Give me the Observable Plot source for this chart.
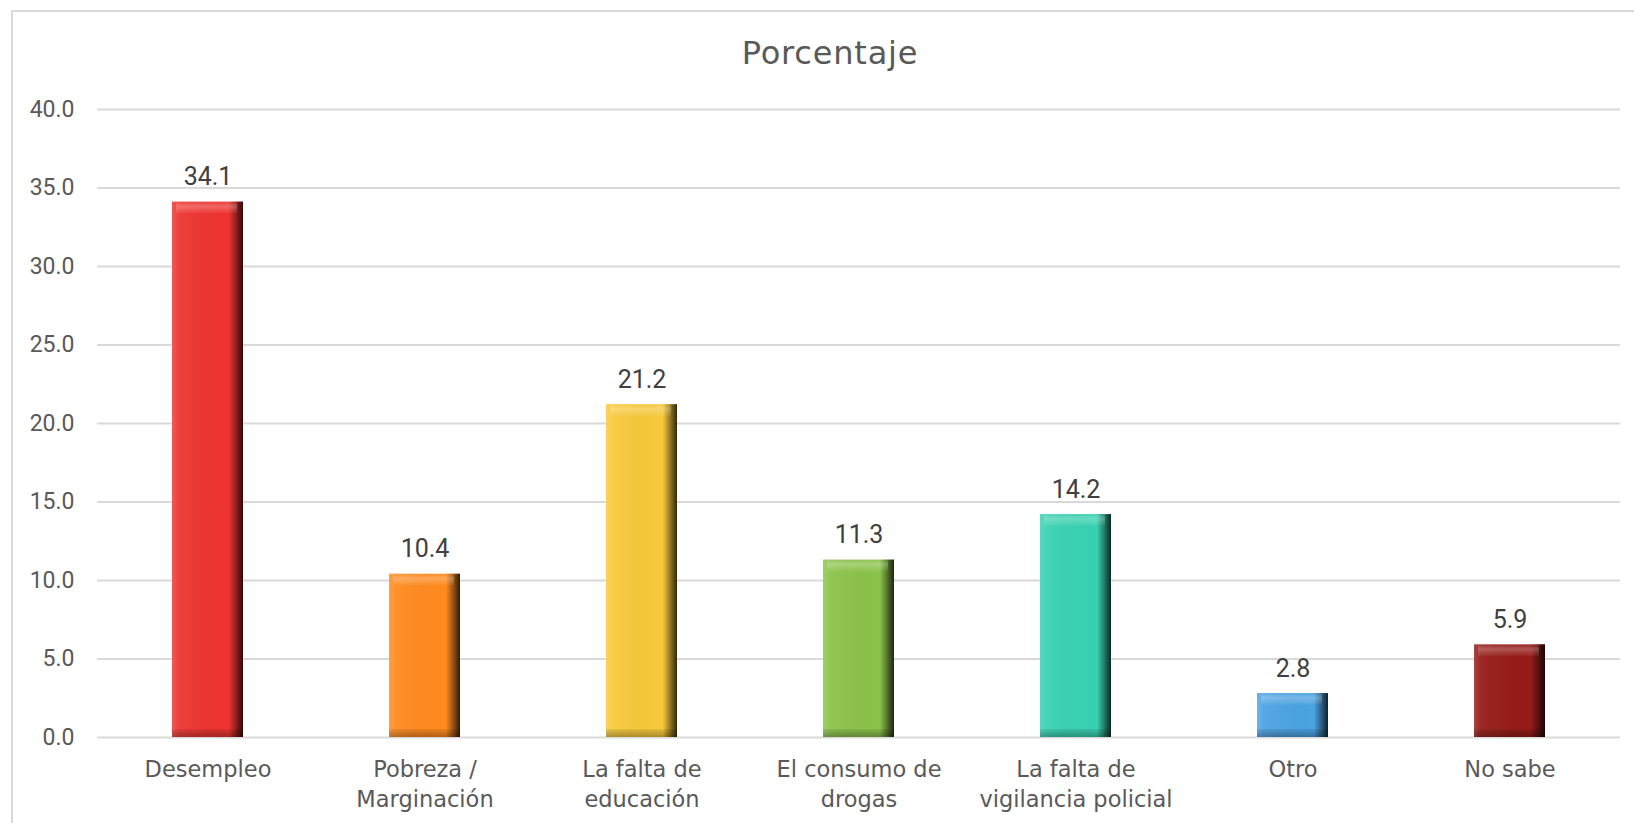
<!DOCTYPE html>
<html>
<head>
<meta charset="utf-8">
<script src="https://cdn.jsdelivr.net/npm/d3@7"></script>
<script src="https://cdn.jsdelivr.net/npm/@observablehq/plot@0.6"></script>
<style>
  html, body { margin: 0; padding: 0; background: #fff; overflow: hidden; }
  #wrap { position: relative; width: 1634px; height: 823px; overflow: hidden; }
  #frame { position: absolute; left: 11px; top: 10px; width: 1660px; height: 860px;
           border: 2px solid #d9d9d9; box-sizing: border-box; }
  #title { position: absolute; left: 0; top: 33px; width: 1660px; text-align: center;
           font-family: "DejaVu Sans", sans-serif; font-size: 32px; color: #595959;
           line-height: 40px; letter-spacing: 0.8px; }
  #chart { position: absolute; left: 0; top: 85px; }
</style>
</head>
<body>
<div id="wrap">
  <div id="frame"></div>
  <div id="title">Porcentaje</div>
  <div id="chart"></div>
</div>
<script>
const categories = ["Desempleo", "Pobreza /\nMarginación", "La falta de\neducación", "El consumo de\ndrogas", "La falta de\nvigilancia policial", "Otro", "No sabe"];
const values = [34.1, 10.4, 21.2, 11.3, 14.2, 2.8, 5.9];
const colors = ["#EE3430", "#FF8A1E", "#F7C93A", "#8BC34A", "#38D1B2", "#4BA3E3", "#951B17"];
const yTicks = [0, 5, 10, 15, 20, 25, 30, 35, 40];

const data = categories.map((c, i) => ({cat: c, v: values[i], color: colors[i]}));

const chart = Plot.plot({
  width: 1634,
  height: 738,
  marginLeft: 97,
  marginRight: 14,
  marginTop: 24,
  marginBottom: 86,
  style: {fontFamily: "Roboto, sans-serif", background: "transparent"},
  x: {domain: categories, paddingInner: 0.674, paddingOuter: 0.337, label: null},
  y: {domain: [0, 40], label: null},
  marks: [
    Plot.gridY(yTicks, {stroke: "#d9d9d9", strokeOpacity: 1, strokeWidth: 2}),
    Plot.axisY(yTicks, {tickSize: 0, tickPadding: 23, tickFormat: d => d.toFixed(1), fontSize: 23, fill: "#595959", label: null}),
    Plot.axisX({tickSize: 0, tickPadding: 19, fontSize: 22.5, fill: "#595959", lineHeight: 1.3, fontFamily: "DejaVu Sans, sans-serif", label: null}),
    Plot.barY(data, {x: "cat", y: "v", fill: "color"}),
    Plot.barY(data, {x: "cat", y: "v", fill: "url(#sideShade)"}),
    Plot.barY(data, {x: "cat", y1: d => d.v - 0.75, y2: "v", insetLeft: 4, insetRight: 6, fill: "url(#topShade)"}),
    Plot.barY(data, {x: "cat", y1: 0, y2: 0.5, fill: "url(#bottomShade)"}),
    Plot.text(data, {x: "cat", y: "v", text: d => d.v.toFixed(1), dy: -25, fontSize: 25, fill: "#404040"})
  ]
});

const ns = "http://www.w3.org/2000/svg";
const defs = document.createElementNS(ns, "defs");
defs.innerHTML = `
  <linearGradient id="sideShade" x1="0" y1="0" x2="1" y2="0">
    <stop offset="0" stop-color="#fff" stop-opacity="0.18"/>
    <stop offset="0.1" stop-color="#fff" stop-opacity="0.06"/>
    <stop offset="0.8" stop-color="#000" stop-opacity="0"/>
    <stop offset="0.89" stop-color="#000" stop-opacity="0.35"/>
    <stop offset="1" stop-color="#000" stop-opacity="0.8"/>
  </linearGradient>
  <linearGradient id="topShade" x1="0" y1="0" x2="0" y2="1">
    <stop offset="0" stop-color="#fff" stop-opacity="0.05"/>
    <stop offset="0.4" stop-color="#fff" stop-opacity="0.25"/>
    <stop offset="1" stop-color="#fff" stop-opacity="0.03"/>
  </linearGradient>
  <linearGradient id="bottomShade" x1="0" y1="0" x2="0" y2="1">
    <stop offset="0" stop-color="#000" stop-opacity="0.08"/>
    <stop offset="1" stop-color="#000" stop-opacity="0.3"/>
  </linearGradient>`;
chart.insertBefore(defs, chart.firstChild);
document.getElementById("chart").appendChild(chart);
</script>
</body>
</html>
